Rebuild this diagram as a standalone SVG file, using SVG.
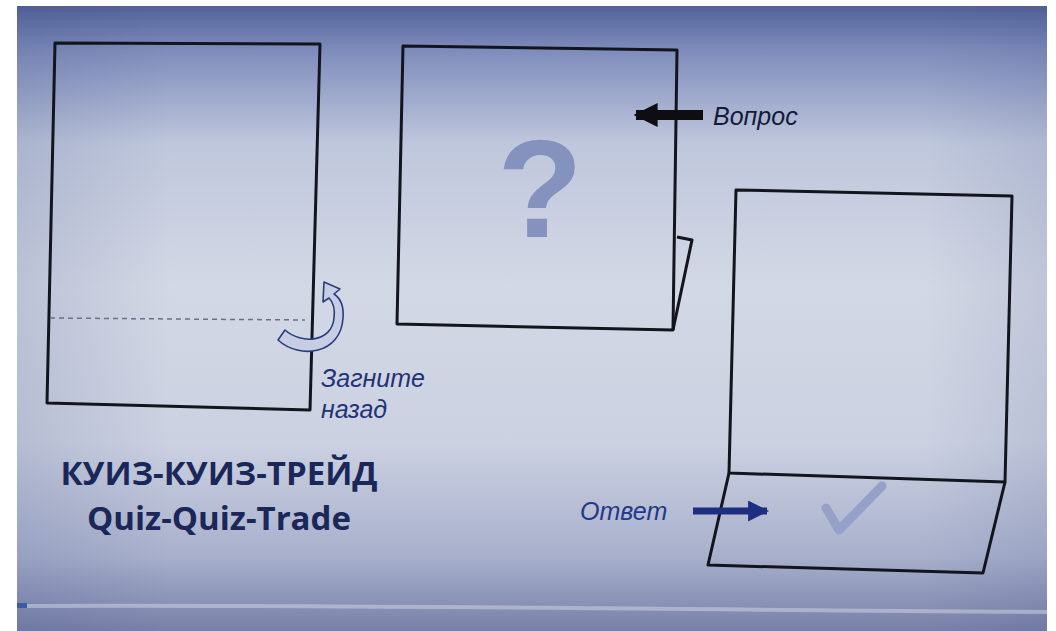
<svg xmlns="http://www.w3.org/2000/svg" width="1056" height="631" viewBox="0 0 1056 631">
  <defs>
    <linearGradient id="bg" x1="0" y1="0" x2="0" y2="1">
      <stop offset="0" stop-color="#52629a"/>
      <stop offset="0.07" stop-color="#7e8cbb"/>
      <stop offset="0.22" stop-color="#bfc7dc"/>
      <stop offset="0.45" stop-color="#d3d8e5"/>
      <stop offset="0.7" stop-color="#cbd1e1"/>
      <stop offset="0.88" stop-color="#a8b0cc"/>
      <stop offset="1" stop-color="#7880a8"/>
    </linearGradient>
    <linearGradient id="side" x1="0" y1="0" x2="1" y2="0">
      <stop offset="0" stop-color="#3a4a80" stop-opacity="0.15"/>
      <stop offset="0.15" stop-color="#3a4a80" stop-opacity="0"/>
      <stop offset="0.88" stop-color="#3a4a80" stop-opacity="0"/>
      <stop offset="1" stop-color="#3a4a80" stop-opacity="0.12"/>
    </linearGradient>
    <marker id="blackHead" viewBox="0 0 10 10" refX="9" refY="5" markerWidth="2.4" markerHeight="2.4" orient="auto">
      <path d="M0,0 L10,5 L0,10 Z" fill="#0d0d12"/>
    </marker>
    <marker id="blueHead" viewBox="0 0 10 10" refX="9" refY="5" markerWidth="3" markerHeight="3" orient="auto">
      <path d="M0,0 L10,5 L0,10 Z" fill="#1c2f80"/>
    </marker>
  </defs>
  <style>
    .sheet { fill: none; stroke: #12141e; stroke-width: 3; stroke-linejoin: round; }
    .lbl { font-family: "Liberation Sans", Arial, sans-serif; font-style: italic; font-size: 25px; }
    .title { font-family: "Open Sans", "Noto Sans", sans-serif; font-weight: 700; fill: #1b2758; }
  </style>
  <rect x="0" y="0" width="1056" height="631" fill="#ffffff"/>
  <rect x="17" y="6" width="1030" height="625" fill="url(#bg)"/>
  <rect x="17" y="6" width="1030" height="625" fill="url(#side)"/>
  <path d="M17,606 C300,604 700,610 1047,612" stroke="#d4d8e6" stroke-width="4" fill="none" opacity="0.5"/>
  <rect x="17" y="603" width="10" height="5" fill="#3c5aa8"/>

  <g id="sheet1">
    <path class="sheet" d="M55,43 L320,44 L310,410 L47,403 Z"/>
    <path d="M50,318 L305,320" stroke="#6a7088" stroke-width="1.5" stroke-dasharray="5,4" fill="none"/>
  </g>
  <g id="fold-arrow">
    <path d="M278,340 C300,360 341,354 343,318 C344,306 340,298 334,294 L340,289 L324,282 L323,302 L329,298 C334,303 335,310 334,318 C332,342 302,345 285,330 Z" fill="#c8cde6" stroke="#2a3d7a" stroke-width="1.6" stroke-linejoin="round"/>
  </g>
  <g id="label-fold">
    <text class="lbl" x="321" y="387" fill="#233274">Загните</text>
    <text class="lbl" x="321" y="418" fill="#233274">назад</text>
  </g>

  <g id="sheet2">
    <path class="sheet" d="M403,46 L677,50 L673,330 L397,324 Z"/>
    <path class="sheet" d="M677,237 L692,240 L673,330"/>
    <text x="540" y="237" text-anchor="middle" font-family="Liberation Sans, Arial, sans-serif" font-weight="700" font-size="140" fill="#8592bd">?</text>
  </g>
  <g id="label-question">
    <text class="lbl" x="713" y="125" fill="#141a3a">Вопрос</text>
  </g>

  <g id="sheet3">
    <path class="sheet" d="M736,190 L1012,196 L1005,482 L729,473 Z"/>
    <path class="sheet" d="M729,473 L708,565 L983,573 L1005,482"/>
    <path d="M826,508 L839,530 L882,486" fill="none" stroke="#96a1c8" stroke-width="9" stroke-linecap="round" stroke-linejoin="round"/>
  </g>
  <g id="label-answer">
    <text class="lbl" x="580" y="520" fill="#24388a">Ответ</text>
  </g>

  <g id="connectors">
    <line x1="703" y1="115" x2="636" y2="115" stroke="#0d0d12" stroke-width="10" marker-end="url(#blackHead)"/>
    <line x1="693" y1="511" x2="767" y2="511" stroke="#1c2f80" stroke-width="7" marker-end="url(#blueHead)"/>
  </g>

  <g id="title">
    <text class="title" x="219" y="485" text-anchor="middle" font-size="33">КУИЗ-КУИЗ-ТРЕЙД</text>
    <text class="title" x="219" y="530" text-anchor="middle" font-size="33" font-weight="600">Quiz-Quiz-Trade</text>
  </g>
</svg>
